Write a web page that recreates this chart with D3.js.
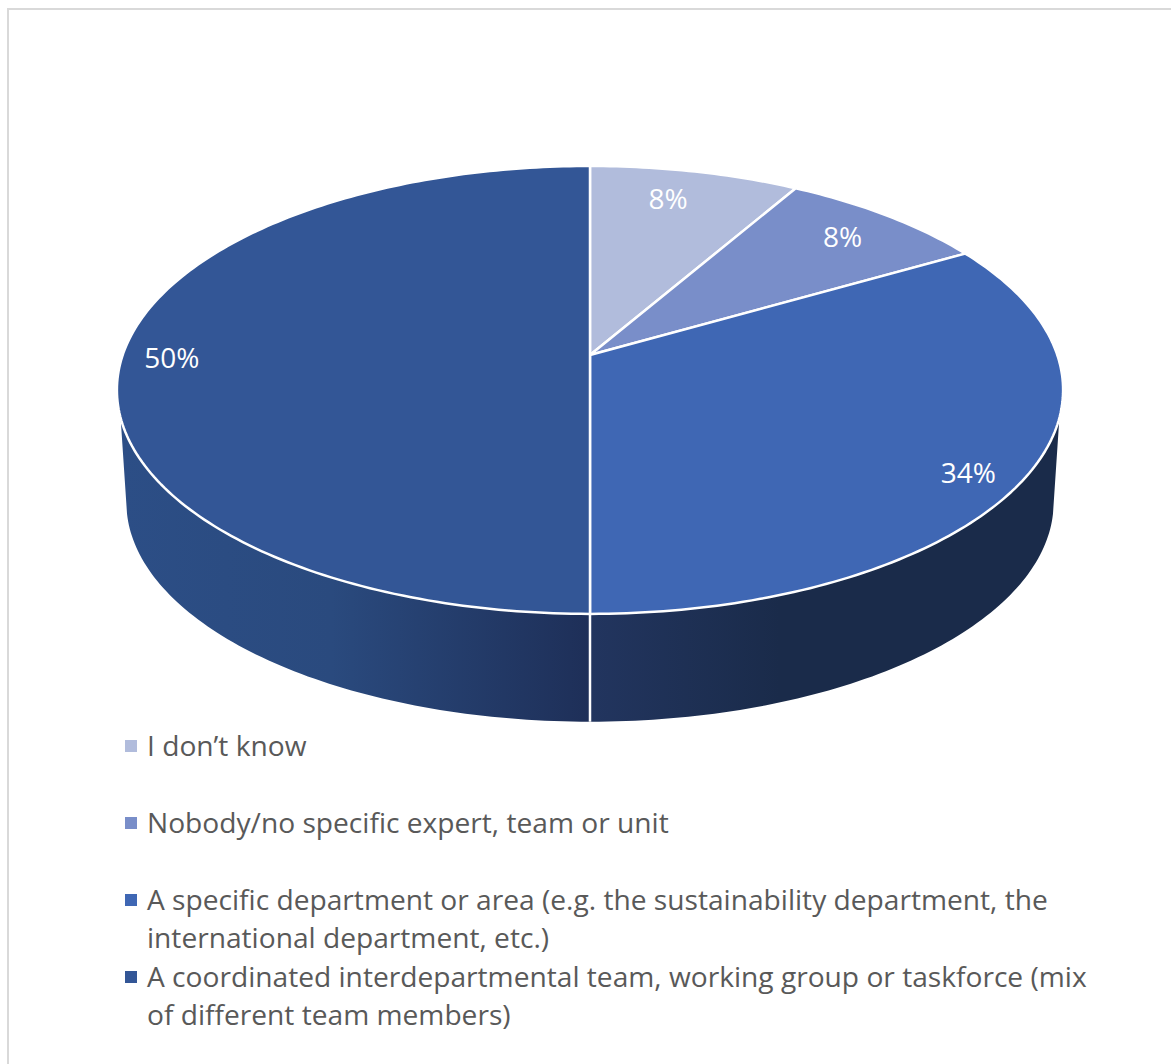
<!DOCTYPE html>
<html lang="en">
<head>
    <meta charset="UTF-8">
    <title>Pie chart</title>
    <script src="https://cdn.jsdelivr.net/npm/d3@7"></script>
    <style>
        html, body { margin: 0; padding: 0; background: #fff; }
        svg { display: block; }
        text { font-family: "Open Sans", sans-serif; }
    </style>
</head>
<body>
<script>
    // data
    var categories = ["I don’t know", "Nobody/no specific expert, team or unit",
        "A specific department or area (e.g. the sustainability department, the international department, etc.)",
        "A coordinated interdepartmental team, working group or taskforce (mix of different team members)"];
    var values = [8.33, 8.33, 33.34, 50];
    var valueLabels = ["8%", "8%", "34%", "50%"];
    var colors = ["#b1bcdc", "#798ec9", "#3f67b4", "#335696"];

    // legend text broken the way the original wraps it
    var legendLines = [
        ["I don’t know"],
        ["Nobody/no specific expert, team or unit"],
        ["A specific department or area (e.g. the sustainability department, the", "international department, etc.)"],
        ["A coordinated interdepartmental team, working group or taskforce (mix", "of different team members)"]
    ];
    var legendY = [746, 823, 900, 977];

    var width = 1171;
    var height = 1064;

    var svg = d3.select("body").append("svg")
        .attr("width", width)
        .attr("height", height);

    // frame
    svg.append("rect")
        .attr("x", 8).attr("y", 9)
        .attr("width", width + 10).attr("height", height + 10)
        .attr("fill", "#fff")
        .attr("stroke", "#d9d9d9")
        .attr("stroke-width", 2);

    // perspective of the pie disc
    var cx = 590, cy = 355;
    var radiusX = 467.3, radiusY = 218.5, tilt = 0.156;
    var wallDrop = 113, wallScale = 0.98;
    var wallLeft = 254 * Math.PI / 180, wallRight = 106 * Math.PI / 180;
    var wallLeftBottom = 258 * Math.PI / 180, wallRightBottom = 102 * Math.PI / 180;

    function rim(a, r) {
        var u = Math.sin(a) * r, v = -Math.cos(a) * r;
        var w = 1 - tilt * v;
        return [cx + radiusX * u / w, cy + radiusY * v / w];
    }
    function rimBottom(a) {
        var u = Math.sin(a), v = -Math.cos(a);
        var w = 1 - tilt * v;
        return [cx + wallScale * radiusX * u / w, cy + wallDrop + wallScale * radiusY * v / w];
    }
    function sample(a0, a1) {
        var n = Math.max(2, Math.ceil(Math.abs(a1 - a0) * 60));
        return d3.range(n + 1).map(function (i) { return a0 + (a1 - a0) * i / n; });
    }

    var line = d3.line();
    var arcs = d3.pie().sort(null)(values);

    // wall gradients, in page pixels
    var defs = svg.append("defs");
    var gradRight = defs.append("linearGradient").attr("id", "wallRight")
        .attr("gradientUnits", "userSpaceOnUse")
        .attr("x1", 590).attr("x2", 780).attr("y1", 0).attr("y2", 0);
    gradRight.append("stop").attr("offset", 0).attr("stop-color", "#22355f");
    gradRight.append("stop").attr("offset", 1).attr("stop-color", "#1a2b4a");
    var gradLeft = defs.append("linearGradient").attr("id", "wallLeft")
        .attr("gradientUnits", "userSpaceOnUse")
        .attr("x1", 120).attr("x2", 590).attr("y1", 0).attr("y2", 0);
    gradLeft.append("stop").attr("offset", 0).attr("stop-color", "#2c4e86");
    gradLeft.append("stop").attr("offset", 0.45).attr("stop-color", "#2a4a7e");
    gradLeft.append("stop").attr("offset", 1).attr("stop-color", "#1e2f58");

    // side walls of the two front slices
    var wallIds = ["", "", "wallRight", "wallLeft"];
    arcs.forEach(function (d, i) {
        if (!wallIds[i]) return;
        var a0 = i === 2 ? wallRight : d.startAngle;
        var a1 = i === 3 ? wallLeft : d.endAngle;
        var b0 = i === 2 ? wallRightBottom : d.startAngle;
        var b1 = i === 3 ? wallLeftBottom : d.endAngle;
        var pts = sample(a0, a1).map(function (a) { return rim(a, 1); })
            .concat(sample(b1, b0).map(rimBottom));
        svg.append("path")
            .attr("d", line(pts) + "Z")
            .attr("fill", "url(#" + wallIds[i] + ")");
    });

    // white seam at the front
    svg.append("line")
        .attr("x1", rim(Math.PI, 1)[0]).attr("y1", rim(Math.PI, 1)[1])
        .attr("x2", rimBottom(Math.PI)[0]).attr("y2", rimBottom(Math.PI)[1])
        .attr("stroke", "#fff").attr("stroke-width", 2.5);

    // top slices
    svg.selectAll("path.slice")
        .data(arcs)
        .enter()
        .append("path")
        .attr("class", "slice")
        .attr("d", function (d) {
            var pts = [[cx, cy]].concat(sample(d.startAngle, d.endAngle).map(function (a) { return rim(a, 1); }));
            return line(pts) + "Z";
        })
        .attr("fill", function (d, i) { return colors[i]; })
        .attr("stroke", "#fff")
        .attr("stroke-width", 2.5)
        .attr("stroke-linejoin", "round");

    // value labels, radius along the slice's mid angle plus a nudge
    var labelRadius = [0.84, 0.86, 0.8, 0.97];
    var labelNudge = [[-12, 2], [-7, 4], [33, 25], [35, 3]];
    function labelPos(d, i) {
        var p = rim((d.startAngle + d.endAngle) / 2, labelRadius[i]);
        return [p[0] + labelNudge[i][0], p[1] + labelNudge[i][1]];
    }
    svg.selectAll("text.value")
        .data(arcs)
        .enter()
        .append("text")
        .attr("class", "value")
        .attr("x", function (d, i) { return labelPos(d, i)[0]; })
        .attr("y", function (d, i) { return labelPos(d, i)[1]; })
        .attr("dy", "0.35em")
        .attr("text-anchor", "middle")
        .attr("fill", "#fff")
        .attr("font-size", 28)
        .text(function (d, i) { return valueLabels[i]; });

    // legend
    var legend = svg.selectAll("g.legend")
        .data(categories)
        .enter()
        .append("g")
        .attr("class", "legend")
        .attr("transform", function (d, i) { return "translate(125," + legendY[i] + ")"; });
    legend.append("rect")
        .attr("y", -6).attr("width", 12).attr("height", 12)
        .attr("fill", function (d, i) { return colors[i]; });
    legend.each(function (d, i) {
        d3.select(this).selectAll("text")
            .data(legendLines[i])
            .enter()
            .append("text")
            .attr("x", 22)
            .attr("y", function (t, j) { return j * 38 + 10; })
            .attr("fill", "#595959")
            .attr("font-size", 28.15)
            .text(function (t) { return t; });
    });
</script>
</body>
</html>
